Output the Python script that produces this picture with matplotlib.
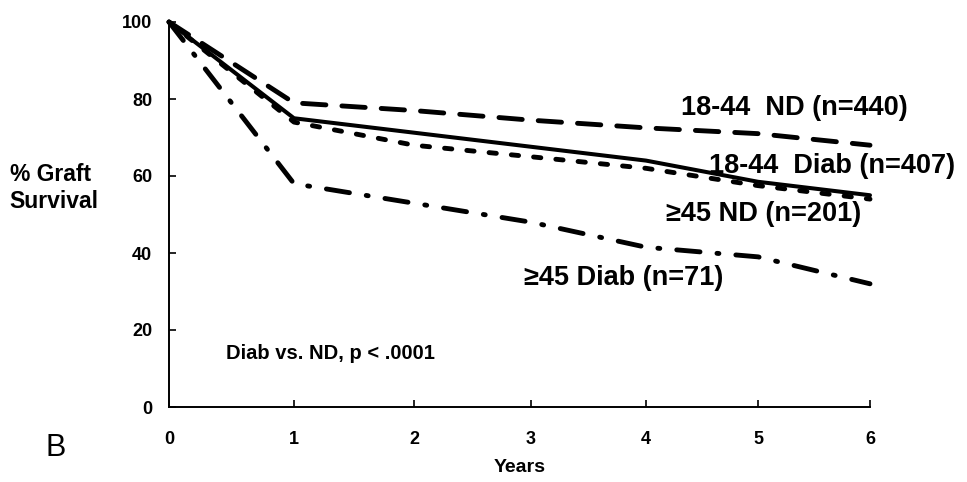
import numpy as np
from matplotlib import pyplot as plt

plt.rcParams['font.family'] = ['Liberation Sans', 'DejaVu Sans']

# survival (% graft survival by year)
annees = [0, 1, 2, 3, 4, 5, 6]
nd_jeunes = [100, 79, 77, 74.5, 72.5, 71, 68]          # 18-44 ND
annees_diab_jeunes = [0, 1, 4, 5, 6]
diab_jeunes = [100, 75, 64, 58.5, 55]                  # 18-44 Diab
nd_vieux = [100, 74, 68, 65, 62, 57.5, 54]             # >=45 ND
annees_diab_vieux = [0, 1, 3, 4, 5, 6]
diab_vieux = [100, 58, 48, 41.5, 39, 32]               # >=45 Diab

etiquettes = ["18-44  ND (n=440)", "18-44  Diab (n=407)",
              "\u226545 ND (n=201)", "\u226545 Diab (n=71)"]
note = "Diab vs. ND, p < .0001"

# the scanned axis has slightly uneven year spacing
pos_ticks = np.array([0, 125, 245, 362, 477, 589, 701]) / 701.0

def vers_ecran(x):
    return np.interp(x, annees, pos_ticks)

def depuis_ecran(x):
    return np.interp(x, pos_ticks, annees)


fig = plt.figure(figsize=(9.67, 4.82), dpi=100)
ax = fig.add_axes([169/967, 75/482, 701/967, 385/482])
ax.set_xscale('function', functions=(vers_ecran, depuis_ecran))

ax.plot(annees, nd_jeunes, color='black', lw=3.5, dashes=(4.8, 3.3),
        dash_capstyle='round', clip_on=False)
ax.plot(annees_diab_jeunes, diab_jeunes, color='black', lw=2.9,
        solid_capstyle='round', clip_on=False)
ax.plot(annees, nd_vieux, color='black', lw=3.5, dashes=(1.5, 3.1),
        dash_capstyle='round', clip_on=False)
ax.plot(annees_diab_vieux, diab_vieux, color='black', lw=3.5,
        dashes=(4.8, 3.5, 0.4, 3.5), dash_capstyle='round', clip_on=False)

ax.set_xlim(0, 6)
ax.set_ylim(0, 100)
ax.set_xticks(annees)
ax.set_yticks([0, 20, 40, 60, 80, 100])
for s in ['top', 'right']:
    ax.spines[s].set_visible(False)
for s in ['left', 'bottom']:
    ax.spines[s].set_linewidth(1.4)
ax.tick_params(direction='in', length=5, width=1.2)
ax.tick_params(axis='x', pad=17)
ax.tick_params(axis='y', pad=12)
for lab in ax.get_xticklabels() + ax.get_yticklabels():
    lab.set_fontsize(13)
    lab.set_fontweight('bold')

ax.set_xlabel("Years", fontsize=14, fontweight='bold', labelpad=8)
fig.text(0.056, 0.61, "% Graft\nSurvival", fontsize=16.5, fontweight='bold',
         ha='center', va='center', multialignment='left')

pos_etiq = [(0.731, 0.777), (0.771, 0.626), (0.709, 0.501), (0.506, 0.335)]
for txt, (px, py) in zip(etiquettes, pos_etiq):
    ax.text(px, py, txt, transform=ax.transAxes, fontsize=19.5,
            fontweight='bold', ha='left', va='center', clip_on=False)

ax.text(0.082, 0.140, note, transform=ax.transAxes, fontsize=14.5,
        fontweight='bold', ha='left', va='center')

fig.text(45/967, 1 - 448/482, "B", fontsize=22, ha='left', va='center')

plt.savefig("out.png", dpi=100)
